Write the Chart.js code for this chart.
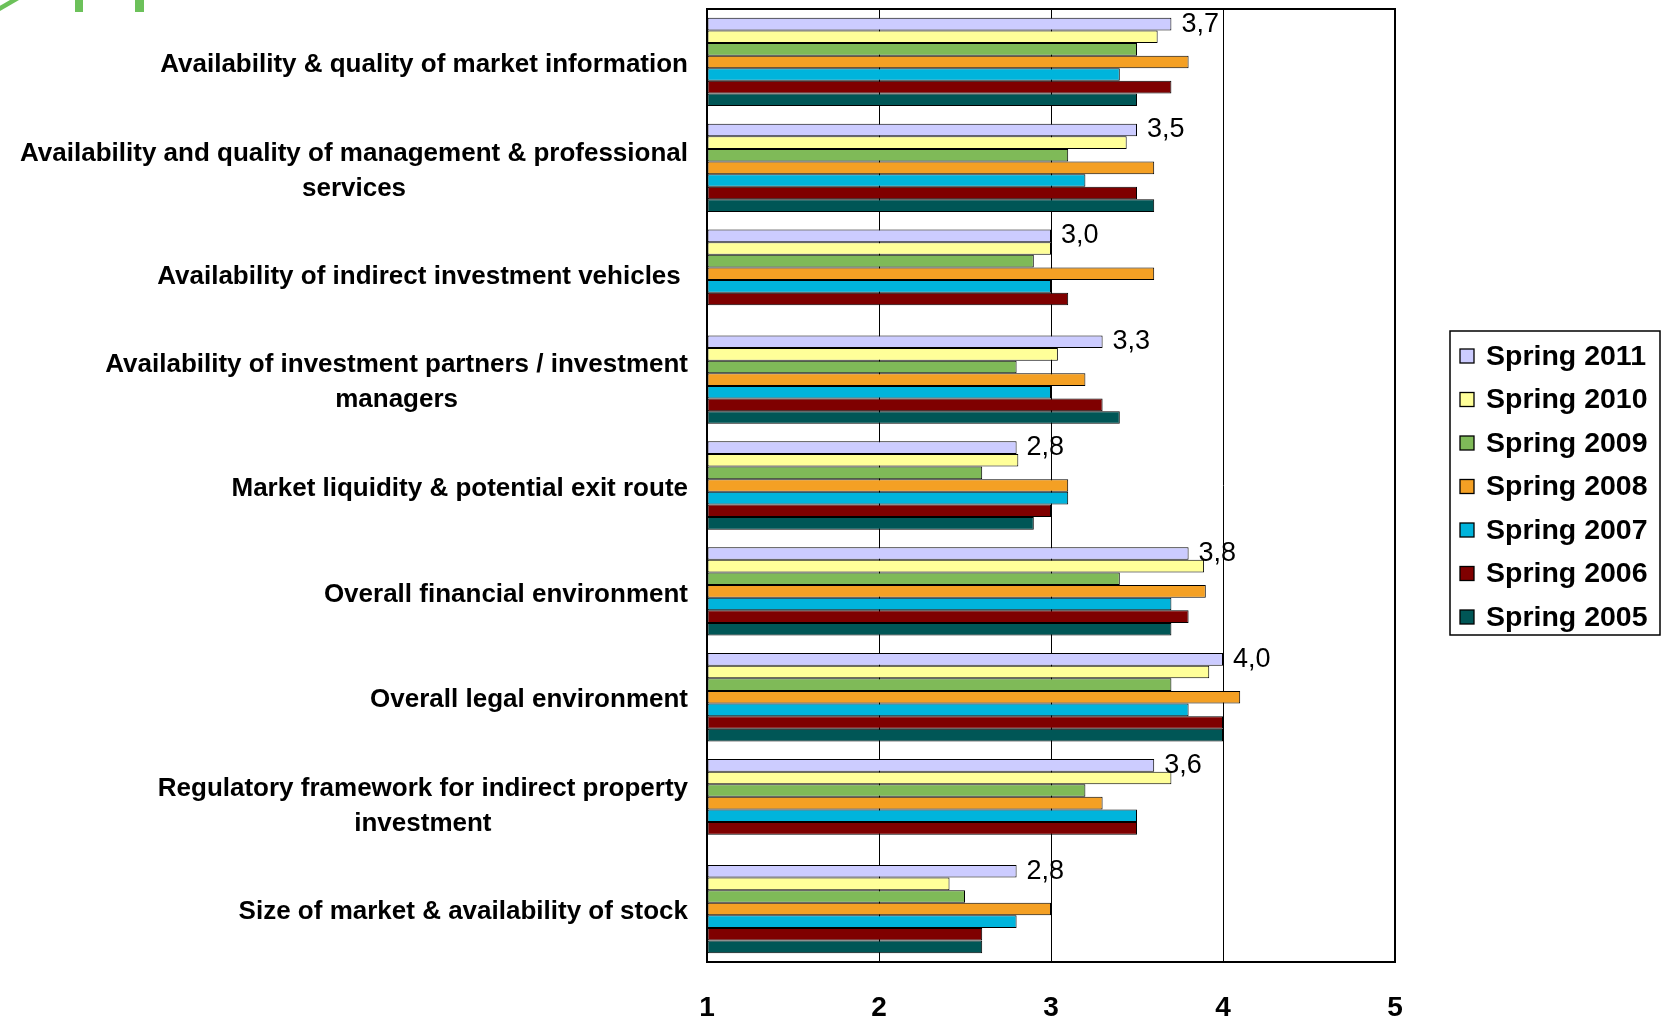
<!DOCTYPE html>
<html>
<head>
<meta charset="utf-8">
<title>Market factor scores by survey year</title>
<script src="https://cdn.jsdelivr.net/npm/chart.js@4/dist/chart.umd.min.js"></script>
<style>
  html, body { margin: 0; padding: 0; background: #ffffff; }
  #wrap { position: relative; width: 1666px; height: 1021px; }
  canvas { display: block; }
  .logo { position: absolute; background: #6cc15a; }
</style>
</head>
<body>
<div id="wrap">
  <div class="logo" style="top:0;width:9px;height:12px;transform:skewX(-60deg);transform-origin:0 0;left:10px;"></div>
  <div class="logo" style="left:75px;top:0;width:8px;height:12px;"></div>
  <div class="logo" style="left:135px;top:0;width:9px;height:12px;"></div>
  <canvas id="chart" width="1666" height="1021"></canvas>
</div>
<script>
// Survey factors (one entry per row; arrays are multi-line labels)
const categories = [
  "Availability & quality of market information",
  ["Availability and quality of management & professional", "services"],
  "Availability of indirect investment vehicles ",
  ["Availability of investment partners / investment", "managers"],
  "Market liquidity & potential exit route",
  "Overall financial environment",
  "Overall legal environment",
  ["Regulatory framework for indirect property", "investment"],
  "Size of market & availability of stock"
];

// Average scores per survey round (1 = poor, 5 = excellent)
const spring2011 = [3.7, 3.5, 3.0, 3.3, 2.8, 3.8, 4.0, 3.6, 2.8];
const spring2010 = [3.62, 3.44, 3.0, 3.04, 2.81, 3.89, 3.92, 3.7, 2.41];
const spring2009 = [3.5, 3.1, 2.9, 2.8, 2.6, 3.4, 3.7, 3.2, 2.5];
const spring2008 = [3.8, 3.6, 3.6, 3.2, 3.1, 3.9, 4.1, 3.3, 3.0];
const spring2007 = [3.4, 3.2, 3.0, 3.0, 3.1, 3.7, 3.8, 3.5, 2.8];
const spring2006 = [3.7, 3.5, 3.1, 3.3, 3.0, 3.8, 4.0, 3.5, 2.6];
const spring2005 = [3.5, 3.6, null, 3.4, 2.9, 3.7, 4.0, null, 2.6];

const seriesLabels = ["Spring 2011", "Spring 2010", "Spring 2009", "Spring 2008",
                      "Spring 2007", "Spring 2006", "Spring 2005"];
const seriesValues = [spring2011, spring2010, spring2009, spring2008,
                      spring2007, spring2006, spring2005];
const seriesColors = ["#ccccff", "#ffff99", "#7fba58", "#f4a024",
                      "#00b4dc", "#7f0000", "#005656"];

// Value axis ticks
const scoreTicks = [1, 2, 3, 4, 5];

const FONT = "'Liberation Sans', Arial, Helvetica, sans-serif";

const datasets = seriesLabels.map((label, i) => ({
  label: label,
  data: seriesValues[i],
  base: scoreTicks[0],
  backgroundColor: seriesColors[i],
  borderColor: "#000000",
  borderWidth: 1,
  borderSkipped: false,
  categoryPercentage: 0.834,
  barPercentage: 1.0
}));

// Row labels: block right-aligned next to the plot, lines centred within the block
const rowLabels = {
  id: "rowLabels",
  afterDraw(chart) {
    const ctx = chart.ctx;
    const y = chart.scales.y;
    const rightEdge = chart.chartArea.left - 19;
    const lineH = 35;
    ctx.save();
    ctx.font = "bold 26px " + FONT;
    ctx.fillStyle = "#000000";
    ctx.textAlign = "center";
    ctx.textBaseline = "middle";
    categories.forEach((cat, i) => {
      const lines = Array.isArray(cat) ? cat : [cat];
      const blockW = Math.max(...lines.map(l => ctx.measureText(l).width));
      const cx = rightEdge - blockW / 2;
      const cy = y.getPixelForValue(i) + 3;
      const y0 = cy - (lines.length - 1) * lineH / 2;
      lines.forEach((l, k) => ctx.fillText(l, cx, y0 + k * lineH));
    });
    ctx.restore();
  }
};

// Value labels for the latest survey round
const latestValues = {
  id: "latestValues",
  afterDatasetsDraw(chart) {
    const ctx = chart.ctx;
    const meta = chart.getDatasetMeta(0);
    ctx.save();
    ctx.font = "27px " + FONT;
    ctx.fillStyle = "#000000";
    ctx.textAlign = "left";
    ctx.textBaseline = "middle";
    meta.data.forEach((bar, i) => {
      const v = spring2011[i];
      if (v == null) return;
      ctx.fillText(v.toFixed(1).replace(".", ","), bar.x + 10, bar.y);
    });
    ctx.restore();
  }
};

// Frame around the plot area
const plotFrame = {
  id: "plotFrame",
  afterDatasetsDraw(chart) {
    const a = chart.chartArea;
    const ctx = chart.ctx;
    ctx.save();
    ctx.strokeStyle = "#000000";
    ctx.lineWidth = 2;
    ctx.strokeRect(a.left, a.top, a.right - a.left, a.bottom - a.top);
    ctx.restore();
  }
};

// Boxed legend on the right
const boxedLegend = {
  id: "boxedLegend",
  afterDraw(chart) {
    const ctx = chart.ctx;
    const bx = 1450, by = 331, bw = 210, bh = 304;
    const rowH = 43.5, firstY = 356;
    ctx.save();
    ctx.strokeStyle = "#000000";
    ctx.lineWidth = 1.5;
    ctx.strokeRect(bx, by, bw, bh);
    ctx.font = "bold 28.5px " + FONT;
    ctx.textAlign = "left";
    ctx.textBaseline = "middle";
    chart.data.datasets.forEach((ds, i) => {
      const cy = firstY + i * rowH;
      ctx.fillStyle = ds.backgroundColor;
      ctx.fillRect(bx + 10, cy - 7, 14, 14);
      ctx.lineWidth = 1.3;
      ctx.strokeRect(bx + 10, cy - 7, 14, 14);
      ctx.fillStyle = "#000000";
      ctx.fillText(ds.label, bx + 36, cy + 1);
    });
    ctx.restore();
  }
};

new Chart(document.getElementById("chart"), {
  type: "bar",
  data: { labels: categories, datasets: datasets },
  plugins: [plotFrame, latestValues, rowLabels, boxedLegend],
  options: {
    indexAxis: "y",
    responsive: false,
    animation: false,
    devicePixelRatio: 1,
    layout: { padding: { left: 0, right: 271, top: 9, bottom: 0 } },
    plugins: {
      legend: { display: false },
      tooltip: { enabled: false },
      title: { display: false }
    },
    scales: {
      x: {
        type: "linear",
        position: "bottom",
        min: scoreTicks[0],
        max: scoreTicks[scoreTicks.length - 1],
        afterBuildTicks(scale) { scale.ticks = scoreTicks.map(v => ({ value: v })); },
        afterFit(scale) { scale.height = 59; },
        border: { display: false },
        grid: { color: "#000000", lineWidth: 1, drawTicks: false },
        ticks: {
          padding: 29,
          color: "#000000",
          font: { family: FONT, size: 28, weight: "bold" }
        }
      },
      y: {
        type: "category",
        afterFit(scale) { scale.width = 707; },
        border: { display: false },
        grid: { display: false, drawTicks: false },
        ticks: { display: false }
      }
    }
  }
});
</script>
</body>
</html>
